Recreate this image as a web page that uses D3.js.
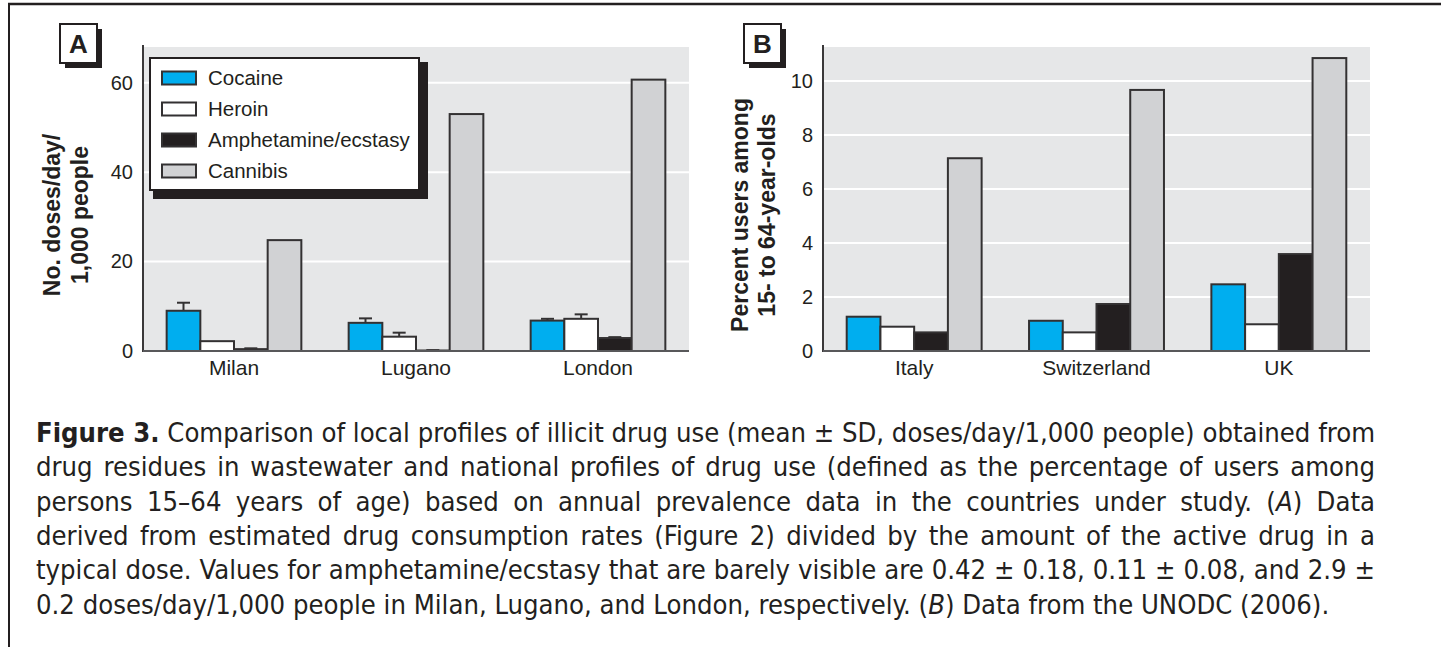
<!DOCTYPE html>
<html><head><meta charset="utf-8">
<script src="https://cdn.jsdelivr.net/npm/d3@7"></script>
<style>
html,body{margin:0;padding:0;background:#fff;}
svg{display:block;}
text{font-family:"Liberation Sans",Arial,sans-serif;fill:#231f20;}
.cap{font-family:"DejaVu Sans Condensed","Liberation Sans",sans-serif;}
</style></head><body>
<svg id="chart" width="1441" height="647"></svg>
<script>
// ---------- data ----------
const drugs = ["Cocaine", "Heroin", "Amphetamine/ecstasy", "Cannibis"];
const drugColors = ["#00aeef", "#ffffff", "#231f20", "#d1d2d4"];

const citiesA = ["Milan", "Lugano", "London"];
const cocaineA = [9.0, 6.3, 6.8];
const heroinA = [2.2, 3.2, 7.2];
const amphA = [0.42, 0.11, 2.9];
const cannabisA = [24.8, 53.0, 60.7];
const cocaineSdA = [1.8, 1.0, 0.4];
const heroinSdA = [0, 0.9, 1.0];
const amphSdA = [0.18, 0.08, 0.2];
const cannabisSdA = [0, 0, 0];
const ticksA = [0, 20, 40, 60];
const yTitleA = ["No. doses/day/", "1,000 people"];

const countriesB = ["Italy", "Switzerland", "UK"];
const cocaineB = [1.27, 1.12, 2.47];
const heroinB = [0.9, 0.69, 0.99];
const amphB = [0.69, 1.74, 3.59];
const cannabisB = [7.14, 9.67, 10.85];
const ticksB = [0, 2, 4, 6, 8, 10];
const yTitleB = ["Percent users among", "15- to 64-year-olds"];

const captionLines = [
  [["b","Figure 3."],["n"," Comparison of local profiles of illicit drug use (mean \u00b1 SD, doses/day/1,000 people) obtained from"]],
  [["n","drug residues in wastewater and national profiles of drug use (defined as the percentage of users among"]],
  [["n","persons 15\u201364 years of age) based on annual prevalence data in the countries under study. ("],["i","A"],["n",") Data"]],
  [["n","derived from estimated drug consumption rates (Figure 2) divided by the amount of the active drug in a"]],
  [["n","typical dose. Values for amphetamine/ecstasy that are barely visible are 0.42 \u00b1 0.18, 0.11 \u00b1 0.08, and 2.9 \u00b1"]],
  [["n","0.2 doses/day/1,000 people in Milan, Lugano, and London, respectively. ("],["i","B"],["n",") Data from the UNODC (2006)."]]
];

// ---------- drawing ----------
const svg = d3.select("#chart");
svg.append("rect").attr("width",1441).attr("height",647).attr("fill","#fff");

svg.append("line").attr("x1",8).attr("x2",1441).attr("y1",4).attr("y2",4)
  .attr("stroke","#231f20").attr("stroke-width",2.5);
svg.append("line").attr("x1",9).attr("x2",9).attr("y1",3).attr("y2",647)
  .attr("stroke","#231f20").attr("stroke-width",2);

function panel(opts) {
  const {cats, series, sds, yMax, ticks, x0, x1, yTop, yBase, label, labelX, titles, titleX, legend} = opts;
  const g = svg.append("g");
  const y = d3.scaleLinear().domain([0, yMax]).range([yBase, yTop]);
  const xg = d3.scaleBand().domain(cats).range([x0, x1]).paddingInner(0.26).paddingOuter(0.13);
  const xs = d3.scaleBand().domain(drugs).range([0, xg.bandwidth()]);

  g.append("rect").attr("x",x0).attr("y",yTop).attr("width",x1-x0).attr("height",yBase-yTop).attr("fill","#e6e7e8");
  g.selectAll(".grid").data(ticks.filter(t=>t>0)).join("line")
    .attr("x1",x0).attr("x2",x1).attr("y1",d=>y(d)).attr("y2",d=>y(d))
    .attr("stroke","#ffffff").attr("stroke-width",2);

  const rows = cats.map((c,i)=>drugs.map((d,j)=>({cat:c, drug:d, j, v:series[j][i], sd: sds ? sds[j][i] : 0})));
  const grp = g.selectAll(".grp").data(rows).join("g")
    .attr("transform",(r,i)=>`translate(${xg(cats[i])},0)`);
  grp.selectAll("rect").data(r=>r).join("rect")
    .attr("x",d=>xs(d.drug)).attr("width",xs.bandwidth())
    .attr("y",d=>y(d.v)).attr("height",d=>y(0)-y(d.v))
    .attr("fill",d=>drugColors[d.j]).attr("stroke","#333132").attr("stroke-width",2);
  const eb = grp.selectAll(".eb").data(r=>r.filter(d=>d.sd>0)).join("g");
  eb.append("line").attr("x1",d=>xs(d.drug)+xs.bandwidth()/2).attr("x2",d=>xs(d.drug)+xs.bandwidth()/2)
    .attr("y1",d=>y(d.v)).attr("y2",d=>y(d.v+d.sd)).attr("stroke","#333132").attr("stroke-width",2);
  eb.append("line").attr("x1",d=>xs(d.drug)+xs.bandwidth()/2-6.5).attr("x2",d=>xs(d.drug)+xs.bandwidth()/2+6.5)
    .attr("y1",d=>y(d.v+d.sd)).attr("y2",d=>y(d.v+d.sd)).attr("stroke","#333132").attr("stroke-width",2);

  const ya = g.append("g").attr("transform",`translate(${x0},0)`)
    .call(d3.axisLeft(y).tickValues(ticks).tickSize(0).tickPadding(10).tickFormat(d3.format("d")));
  ya.select(".domain").remove();
  ya.selectAll("text").attr("font-size",20).attr("font-family",null).attr("fill","#231f20");
  const xa = g.append("g").attr("transform",`translate(0,${yBase})`)
    .call(d3.axisBottom(xg).tickSize(0).tickPadding(9));
  xa.select(".domain").remove();
  xa.selectAll("text").attr("font-size",21).attr("font-family",null).attr("fill","#231f20");

  g.append("line").attr("x1",x0).attr("x2",x0).attr("y1",yTop-2).attr("y2",yBase+1)
    .attr("stroke","#3a3839").attr("stroke-width",2);
  g.append("line").attr("x1",x0).attr("x2",x1).attr("y1",yBase).attr("y2",yBase)
    .attr("stroke","#58585a").attr("stroke-width",2);

  const cy = 215;
  titles.forEach((t,i)=>{
    g.append("text").attr("transform",`translate(${titleX[i]},${cy}) rotate(-90)`)
      .attr("text-anchor","middle").attr("font-size",23).attr("font-weight","bold").text(t);
  });

  g.append("rect").attr("x",labelX+5).attr("y",29).attr("width",37).attr("height",39).attr("fill","#231f20");
  g.append("rect").attr("x",labelX).attr("y",24).attr("width",37).attr("height",39)
    .attr("fill","#fff").attr("stroke","#231f20").attr("stroke-width",2);
  g.append("text").attr("x",labelX+18.5).attr("y",53).attr("text-anchor","middle")
    .attr("font-size",26).attr("font-weight","bold").text(label);

  if (legend) {
    const L = {x:150, y:58, w:269, h:132};
    g.append("rect").attr("x",L.x+3).attr("y",L.y+4).attr("width",L.w+6).attr("height",L.h+5).attr("fill","#231f20");
    g.append("rect").attr("x",L.x).attr("y",L.y).attr("width",L.w).attr("height",L.h)
      .attr("fill","#fff").attr("stroke","#231f20").attr("stroke-width",2);
    const ly = d3.scalePoint().domain(drugs).range([L.y+20, L.y+113]);
    const li = g.selectAll(".leg").data(drugs).join("g")
      .attr("transform",d=>`translate(${L.x+12},${ly(d)})`);
    li.append("rect").attr("x",0).attr("y",-6.5).attr("width",34).attr("height",13)
      .attr("fill",(d,i)=>drugColors[i]).attr("stroke","#333132").attr("stroke-width",2);
    li.append("text").attr("x",46).attr("y",7).attr("font-size",20.5).text(d=>d);
  }
}

panel({cats:citiesA, series:[cocaineA, heroinA, amphA, cannabisA],
  sds:[cocaineSdA, heroinSdA, amphSdA, cannabisSdA], yMax:68, ticks:ticksA,
  x0:143, x1:689, yTop:47, yBase:351, label:"A", labelX:60,
  titles:yTitleA, titleX:[60, 88], legend:true});

panel({cats:countriesB, series:[cocaineB, heroinB, amphB, cannabisB],
  sds:null, yMax:11.26, ticks:ticksB,
  x0:823, x1:1370, yTop:47, yBase:351, label:"B", labelX:744,
  titles:yTitleB, titleX:[748, 775], legend:false});

// caption: size chosen so the widest justified line fits x=36..1375,
// the other justified lines get extra word spacing, last line ragged
const cap = svg.append("g").attr("class","cap");
const capX = 36, capRight = 1375;
const texts = captionLines.map((line,i)=>{
  const t = cap.append("text").attr("class","cap").attr("x",capX).attr("y",442 + i*34.3).attr("font-size",24);
  line.forEach(([s,str])=>{
    const ts = t.append("tspan").text(str);
    if (s==="b") ts.attr("font-weight","bold");
    if (s==="i") ts.attr("font-style","italic");
  });
  return t;
});
const maxLen = d3.max(texts.slice(0,-1), t=>t.node().getComputedTextLength());
const fs = 24 * (capRight - capX) / maxLen;
texts.forEach((t,i)=>{
  t.attr("font-size", fs);
  if (i < texts.length-1) {
    const len = t.node().getComputedTextLength();
    const spaces = captionLines[i].map(p=>p[1]).join("").split(" ").length - 1;
    t.style("word-spacing", Math.max(0,(capRight - capX - len)/spaces) + "px");
  }
});
</script>
</body></html>
